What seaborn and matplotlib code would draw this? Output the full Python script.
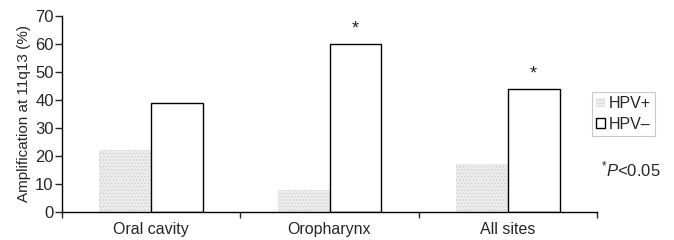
import matplotlib
matplotlib.use('Agg')
import matplotlib.pyplot as plt
from matplotlib.patches import Patch
import pandas as pd
import seaborn as sns

SITES = ['Oral cavity', 'Oropharynx', 'All sites']
HPV_POS = [22, 8, 17]
HPV_NEG = [39, 60, 44]
SIGNIFICANT = [False, True, True]  # HPV- bars marked with *
GROUPS = ['HPV+', 'HPV\u2013']


def main():
    sns.set_theme(style='white')
    plt.rcParams['font.family'] = ['Liberation Sans', 'DejaVu Sans']
    plt.rcParams['mathtext.fontset'] = 'custom'
    plt.rcParams['mathtext.rm'] = 'Liberation Sans'
    plt.rcParams['mathtext.it'] = 'Liberation Sans:italic'
    plt.rcParams['hatch.linewidth'] = 0.6

    df = pd.DataFrame({
        'Site': SITES * 2,
        'Group': [GROUPS[0]] * len(SITES) + [GROUPS[1]] * len(SITES),
        'Value': HPV_POS + HPV_NEG,
    })

    fig = plt.figure(figsize=(6.74, 2.4), dpi=100)
    ax = fig.add_axes([62 / 674, 28 / 240, 535 / 674, 196 / 240])

    sns.barplot(data=df, x='Site', y='Value', hue='Group', order=SITES,
                hue_order=GROUPS, width=0.58, gap=0, ax=ax, legend=False,
                errorbar=None)

    n = len(SITES)
    pos_bars = ax.patches[:n]
    neg_bars = ax.patches[n:2 * n]
    for p in pos_bars:
        p.set_facecolor('#ececec')
        p.set_edgecolor('#cfcfcf')
        p.set_hatch('.....')
        p.set_linewidth(0)
    for p, star in zip(neg_bars, SIGNIFICANT):
        p.set_facecolor('white')
        p.set_edgecolor('black')
        p.set_linewidth(1.0)
        if star:
            ax.text(p.get_x() + p.get_width() / 2, p.get_height() + 2.2, '*',
                    ha='center', va='bottom', fontsize=13)

    ax.set_xlim(-0.5, n - 0.5)
    ax.set_ylim(0, 70)
    ax.set_yticks(range(0, 71, 10))
    ax.set_xticks([i - 0.5 for i in range(n + 1)])
    ax.set_xticklabels([''] * (n + 1))
    ax.set_xticks(range(n), minor=True)
    ax.set_xticklabels(SITES, minor=True, fontsize=11.5)
    ax.tick_params(axis='x', which='major', length=4, width=1, direction='out', bottom=True)
    ax.tick_params(axis='x', which='minor', length=0, pad=7)
    ax.tick_params(axis='y', length=5, width=1, direction='out', left=True, labelsize=12, pad=1)
    ax.set_xlabel('')
    ax.set_ylabel('Amplification at 11q13 (%)', fontsize=11, labelpad=3)
    sns.despine(ax=ax)
    for s in ('left', 'bottom'):
        ax.spines[s].set_color('black')
        ax.spines[s].set_linewidth(1.0)

    handles = [
        Patch(facecolor='#ececec', edgecolor='#cfcfcf', hatch='.....', linewidth=0, label=GROUPS[0]),
        Patch(facecolor='white', edgecolor='black', linewidth=1.0, label=GROUPS[1]),
    ]
    leg = fig.legend(handles=handles, loc='upper left',
                     bbox_to_anchor=(592 / 674, 1 - 92 / 240), fontsize=11.5,
                     frameon=True, fancybox=False, borderpad=0.25,
                     handlelength=0.55, handleheight=0.55, handletextpad=0.25,
                     labelspacing=0.35, borderaxespad=0)
    leg.get_frame().set_edgecolor('#bbbbbb')
    leg.get_frame().set_linewidth(0.8)

    fig.text(601 / 674, 1 - 169 / 240, r'$^{*}\mathit{P}$<0.05', fontsize=12,
             ha='left', va='center')

    fig.savefig('out.png', dpi=100)


if __name__ == '__main__':
    main()
